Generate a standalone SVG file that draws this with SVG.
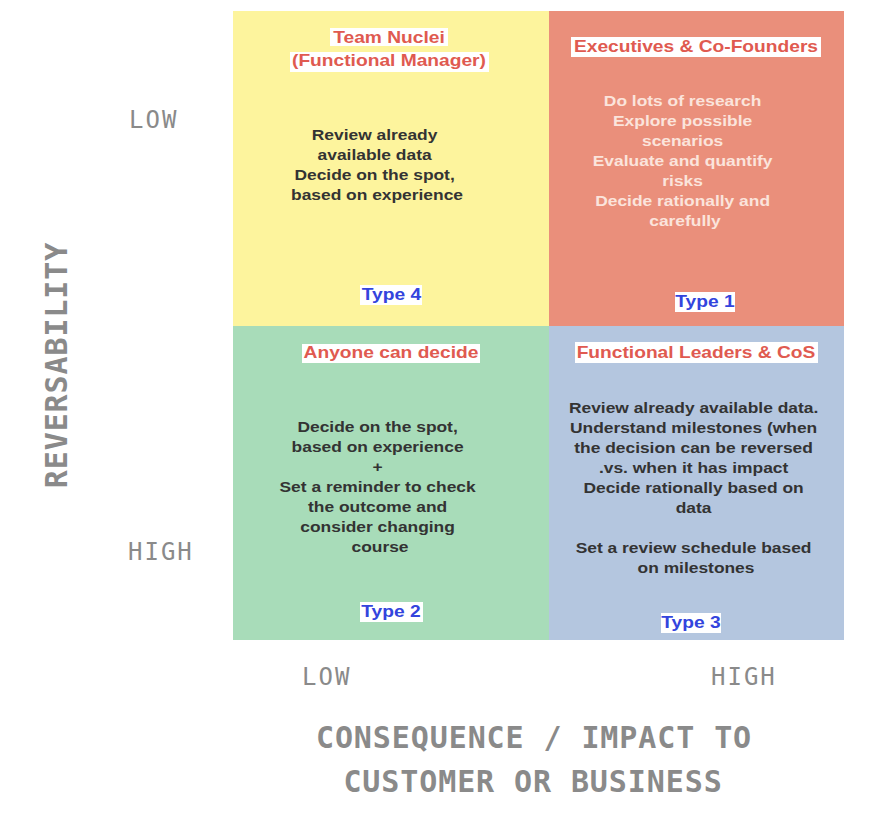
<svg xmlns="http://www.w3.org/2000/svg" width="896" height="818" viewBox="0 0 896 818">
  <style>
    .title { font-family: "Liberation Sans", Arial, sans-serif; font-weight: bold; font-size: 16px; fill: #e05a50; text-anchor: middle; }
    .body { font-family: "Liberation Sans", Arial, sans-serif; font-weight: bold; font-size: 14.5px; fill: #333333; text-anchor: middle; }
    .body-light { fill: #fbe4dc; }
    .type { font-family: "Liberation Sans", Arial, sans-serif; font-weight: bold; font-size: 16px; fill: #3344dd; text-anchor: middle; }
    .hl { fill: #ffffff; }
    .axis { font-family: "DejaVu Sans Mono", "Liberation Mono", monospace; fill: #8a8a8a; }
    .tick { font-size: 24px; letter-spacing: 2px; }
    .axis-title { font-size: 30px; font-weight: bold; letter-spacing: 0.9px; text-anchor: middle; }
  </style>

  <rect x="0" y="0" width="896" height="818" fill="#ffffff"/>

  <!-- Type 4: low consequence, low reversibility -->
  <g id="type4">
    <rect x="233" y="11" width="316" height="315" fill="#fdf49d"/>
    <rect class="hl" x="330" y="28" width="118" height="18"/>
    <rect class="hl" x="290" y="52" width="199" height="20"/>
    <rect class="hl" x="360" y="285" width="62" height="20"/>
    <g transform="translate(389,0) scale(1.2,1)">
      <text class="title" x="0" y="43">Team Nuclei</text>
      <text class="title" x="0" y="66">(Functional Manager)</text>
      <text class="type" x="2" y="300">Type 4</text>
    </g>
    <g transform="translate(377,0) scale(1.2,1)">
      <text class="body" y="140">
        <tspan x="0">Review already</tspan>
        <tspan x="0" dy="20">available data</tspan>
        <tspan x="0" dy="20">Decide on the spot,</tspan>
        <tspan x="0" dy="20">based on experience</tspan>
      </text>
    </g>
  </g>

  <!-- Type 1: high consequence, low reversibility -->
  <g id="type1">
    <rect x="549" y="11" width="295" height="315" fill="#ea8f7b"/>
    <rect class="hl" x="571" y="37" width="250" height="20"/>
    <rect class="hl" x="675" y="292" width="60" height="20"/>
    <g transform="translate(696,0) scale(1.2,1)">
      <text class="title" x="0" y="52">Executives &amp; Co-Founders</text>
    </g>
    <g transform="translate(705,0) scale(1.2,1)">
      <text class="type" x="0" y="307">Type 1</text>
    </g>
    <g transform="translate(685,0) scale(1.2,1)">
      <text class="body body-light" y="106">
        <tspan x="0">Do lots of research</tspan>
        <tspan x="0" dy="20">Explore possible</tspan>
        <tspan x="0" dy="20">scenarios</tspan>
        <tspan x="0" dy="20">Evaluate and quantify</tspan>
        <tspan x="0" dy="20">risks</tspan>
        <tspan x="0" dy="20">Decide rationally and</tspan>
        <tspan x="0" dy="20">carefully</tspan>
      </text>
    </g>
  </g>

  <!-- Type 2: low consequence, high reversibility -->
  <g id="type2">
    <rect x="233" y="326" width="316" height="314" fill="#a8dcb9"/>
    <rect class="hl" x="302" y="344" width="178" height="19"/>
    <rect class="hl" x="360" y="602" width="63" height="20"/>
    <g transform="translate(391,0) scale(1.2,1)">
      <text class="title" x="0" y="358">Anyone can decide</text>
      <text class="type" x="0" y="617">Type 2</text>
    </g>
    <g transform="translate(380,0) scale(1.2,1)">
      <text class="body" y="432">
        <tspan x="0">Decide on the spot,</tspan>
        <tspan x="0" dy="20">based on experience</tspan>
        <tspan x="0" dy="20">+</tspan>
        <tspan x="0" dy="20">Set a reminder to check</tspan>
        <tspan x="0" dy="20">the outcome and</tspan>
        <tspan x="0" dy="20">consider changing</tspan>
        <tspan x="0" dy="20">course</tspan>
      </text>
    </g>
  </g>

  <!-- Type 3: high consequence, high reversibility -->
  <g id="type3">
    <rect x="549" y="326" width="295" height="314" fill="#b4c6df"/>
    <rect class="hl" x="575" y="342" width="243" height="21"/>
    <rect class="hl" x="661" y="613" width="60" height="20"/>
    <g transform="translate(696,0) scale(1.2,1)">
      <text class="title" x="0" y="358">Functional Leaders &amp; CoS</text>
    </g>
    <g transform="translate(691,0) scale(1.2,1)">
      <text class="type" x="0" y="628">Type 3</text>
    </g>
    <g transform="translate(696,0) scale(1.2,1)">
      <text class="body" y="413">
        <tspan x="0">Review already available data.</tspan>
        <tspan x="0" dy="20">Understand milestones (when</tspan>
        <tspan x="0" dy="20">the decision can be reversed</tspan>
        <tspan x="0" dy="20">.vs. when it has impact</tspan>
        <tspan x="0" dy="20">Decide rationally based on</tspan>
        <tspan x="0" dy="20">data</tspan>
        <tspan x="0" dy="40">Set a review schedule based</tspan>
        <tspan x="0" dy="20">on milestones</tspan>
      </text>
    </g>
  </g>

  <!-- Vertical axis: reversibility -->
  <g id="axis-y" class="axis">
    <text class="tick" x="129" y="128">LOW</text>
    <text class="tick" x="128" y="560">HIGH</text>
    <text class="axis-title" transform="translate(67,365) rotate(-90)" x="0" y="0">REVERSABILITY</text>
  </g>

  <!-- Horizontal axis: consequence / impact -->
  <g id="axis-x" class="axis">
    <text class="tick" x="302" y="685">LOW</text>
    <text class="tick" x="711" y="685">HIGH</text>
    <text class="axis-title" x="534" y="748">CONSEQUENCE / IMPACT TO</text>
    <text class="axis-title" x="533" y="792">CUSTOMER OR BUSINESS</text>
  </g>
</svg>
